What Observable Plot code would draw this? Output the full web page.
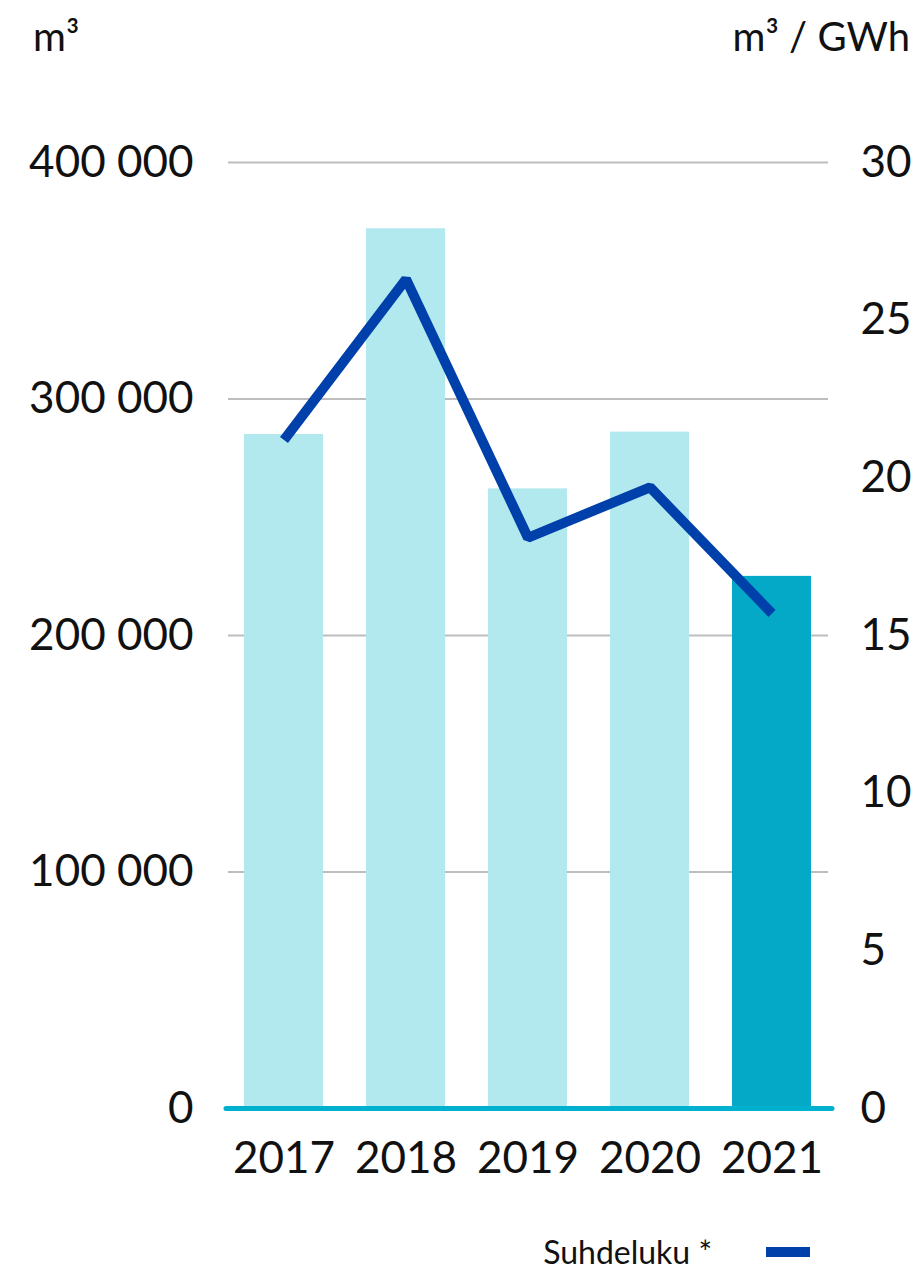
<!DOCTYPE html>
<html>
<head>
<meta charset="utf-8">
<script src="https://cdn.jsdelivr.net/npm/d3@7"></script>
<script src="https://cdn.jsdelivr.net/npm/@observablehq/plot@0.6"></script>
<style>
  html, body { margin: 0; padding: 0; background: #fff; }
  body { width: 917px; font-family: Lato, "Open Sans", sans-serif; color: #111; }
  #header { height: 80px; position: relative; font-size: 40px; line-height: 48px; }
  #header .l { position: absolute; left: 33px; top: 12px; }
  #header .r { position: absolute; right: 7px; top: 12px; }
  #chart svg { display: block; }
  #legend { display: flex; justify-content: flex-end; align-items: center; padding-right: 107px; padding-top: 22px; font-size: 32px; }
  #legend .sw { display: inline-block; width: 44px; height: 10px; background: #0040aa; margin-left: 54px; }
</style>
</head>
<body>
<div id="header"><span class="l">m³</span><span class="r">m³ / GWh</span></div>
<div id="chart"></div>
<div id="legend"><span>Suhdeluku *</span><span class="sw"></span></div>
<script>
const years = [2017, 2018, 2019, 2020, 2021];
const volumes = [285000, 372000, 262000, 286000, 225000];
const ratios = [21.2, 26.3, 18.1, 19.7, 15.7];
const leftTicks = [0, 100000, 200000, 300000, 400000];
const gridTicks = [100000, 200000, 300000, 400000];
const ratioTicks = [0, 5, 10, 15, 20, 25, 30];
const highlightYear = 2021;

const yMax = 400000, rMax = 30;
const k = yMax / rMax;
const data = years.map((year, i) => ({year, volume: volumes[i], ratio: ratios[i]}));
const fmt = d3.formatLocale({thousands: " ", grouping: [3], decimal: ",", currency: ["", ""]}).format(",");

const plot = Plot.plot({
  width: 917,
  height: 1130,
  marginTop: 82,
  marginBottom: 102,
  marginLeft: 228,
  marginRight: 89,
  style: {fontFamily: "Lato, 'Open Sans', sans-serif", color: "#111", background: "#fff"},
  x: {type: "band", domain: years, paddingInner: 0.35, paddingOuter: 0.13},
  y: {domain: [0, yMax]},
  marks: [
    Plot.ruleY(gridTicks, {stroke: "#bdbdbd", strokeWidth: 2}),
    Plot.barY(data.filter(d => d.year !== highlightYear), {x: "year", y: "volume", fill: "#b2e9ee"}),
    Plot.barY(data.filter(d => d.year === highlightYear), {x: "year", y: "volume", fill: "#04a9c7"}),
    Plot.ruleY([0], {stroke: "#00b0cf", strokeWidth: 5, strokeLinecap: "round", insetLeft: -2, insetRight: -4}),
    Plot.line(data, {x: "year", y: d => d.ratio * k, stroke: "#0040aa", strokeWidth: 10, strokeLinejoin: "miter", strokeLinecap: "butt"}),
    Plot.axisY(leftTicks, {anchor: "left", tickSize: 0, tickPadding: 35, fontSize: 44, tickFormat: fmt, label: null}),
    Plot.axisY(ratioTicks.map(v => v * k), {anchor: "right", tickSize: 0, tickPadding: 32, fontSize: 44, textAnchor: "start", tickFormat: v => String(Math.round(v / k)), label: null}),
    Plot.axisX({tickSize: 0, tickPadding: 33, fontSize: 44, label: null, tickFormat: d => String(d)})
  ]
});
document.getElementById("chart").appendChild(plot);
</script>
</body>
</html>
